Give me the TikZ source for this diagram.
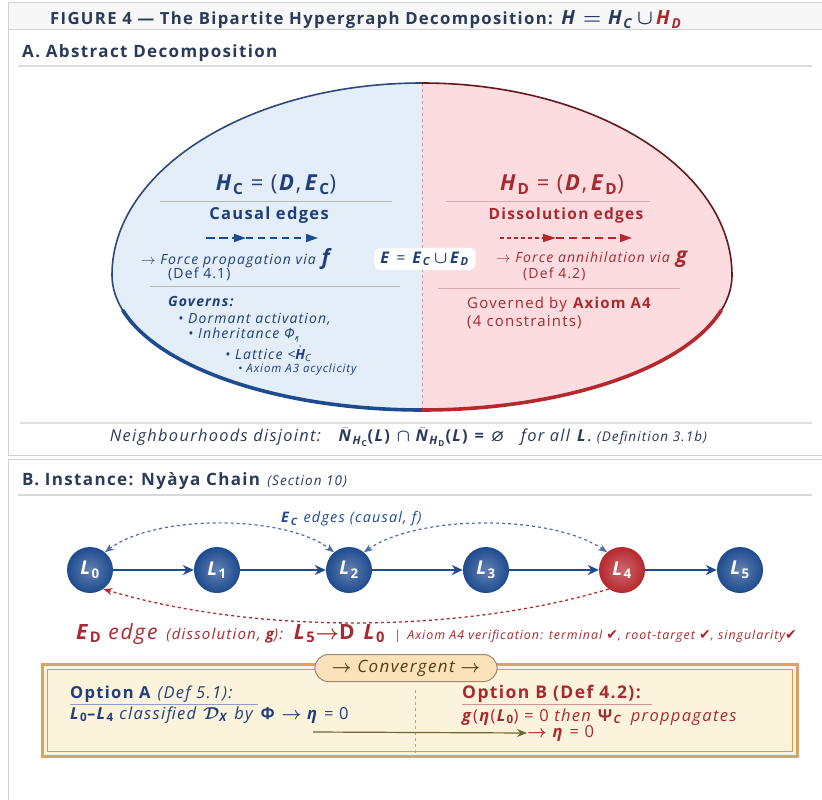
\documentclass[tikz,border=0pt]{standalone}
\usepackage{amsmath,amssymb,bm}
\usepackage{fontspec}
\setmainfont{Open Sans}[LetterSpace=8]
\newfontfamily\dejavu{DejaVu Sans}
\usetikzlibrary{arrows.meta,shapes.misc,shadows,calc}
\definecolor{bluD}{HTML}{1F3F7A}
\definecolor{bluN}{HTML}{1E4B8F}
\definecolor{redD}{HTML}{A82A30}
\definecolor{redN}{HTML}{B5292E}
\definecolor{lblue}{HTML}{E3EEF9}
\definecolor{lpink}{HTML}{FCDCDF}
\definecolor{frameg}{HTML}{D2D2D2}
\definecolor{titleg}{HTML}{2A3A58}
\definecolor{cream}{HTML}{FCF3DC}
\definecolor{tanB}{HTML}{D9A45C}
\definecolor{oliveL}{HTML}{6E6530}
\definecolor{brownT}{HTML}{5A3A12}
\newcommand\fsz[1]{\fontsize{#1}{#1}\selectfont}
\newcommand\bi[1]{\textbf{\textit{#1}}}
\newcommand\chk{{\dejavu\fsz{14}✔}}
\tikzset{
  chainnode/.style={circle, minimum size=46pt, inner sep=0pt, shading=radial,
    inner color=#1!70!white, outer color=#1, text=white, font=\fsz{19}},
  chainarrow/.style={bluN, line width=2pt, -{Stealth[length=11pt,width=10pt]}},
  sepline/.style={gray!55, line width=0.8pt},
  txt/.style={inner sep=0pt, font=\fsz{14}},
}
\begin{document}
\begin{tikzpicture}[x=1pt,y=-1pt]
\useasboundingbox (0,0) rectangle (822,800);
\fill[white] (0,0) rectangle (822,800);
% ---------- frames
\fill[gray!6] (8,3) rectangle (830,30);
\draw[frameg, line width=1pt] (830,3) -- (8,3) -- (8,455) -- (830,455);
\draw[frameg, line width=1pt] (8,30) -- (830,30);
\draw[frameg, line width=1pt] (830,459) -- (8,459) -- (8,805);
\draw[gray!30, line width=2pt] (18,66) -- (812,66);
\draw[gray!25, line width=1.5pt] (20,423) -- (812,423);
\draw[gray!30, line width=2pt] (18,495) -- (812,495);
% ---------- titles
\node[txt, anchor=west, text=titleg, font=\fsz{16.7}\bfseries] (title) at (50,20)
  {FIGURE 4 — The Bipartite Hypergraph Decomposition:\enspace {\fsz{19.5}\bi{H} $\boldsymbol{=}$ \bi{H}$_{\bi{C}}$\,$\boldsymbol{\cup}$\,{\color{redD}\bi{H}$_{\bi{D}}$}}};
\node[txt, anchor=west, text=titleg, font=\fsz{17}\bfseries] (secA) at (22,53) {A. Abstract Decomposition};
% ---------- ellipse (egg shape: taller above the widest line)
\fill[lblue] (422,83) arc[start angle=90, end angle=180, x radius=310pt, y radius=192pt]
  arc[start angle=180, end angle=270, x radius=310pt, y radius=135pt] -- cycle;
\fill[lpink] (422,410) arc[start angle=-90, end angle=0, x radius=310pt, y radius=135pt]
  arc[start angle=0, end angle=90, x radius=310pt, y radius=192pt] -- cycle;
\draw[gray!70, dashed, line width=0.8pt] (422,83) -- (422,410);
\draw[bluD!85!gray, line width=1.6pt] (422,83) arc[start angle=90, end angle=180, x radius=310pt, y radius=192pt]
  arc[start angle=180, end angle=270, x radius=310pt, y radius=135pt];
\draw[redD!60!black, line width=1.6pt] (422,410) arc[start angle=-90, end angle=0, x radius=310pt, y radius=135pt]
  arc[start angle=0, end angle=90, x radius=310pt, y radius=192pt];
\draw[bluN, line width=3.6pt] (422,275) ++(195:310pt and 135pt) arc[start angle=195, end angle=270, x radius=310pt, y radius=135pt];
\draw[redN, line width=3.6pt] (422,410) arc[start angle=-90, end angle=-15, x radius=310pt, y radius=135pt];
% ---------- left half
\node[txt, text=bluD, font=\fsz{22}] (hc) at (276,185) {\bi{H}$_{\textbf{C}}$ = (\bi{D},\,\bi{E}$_{\textbf{C}}$)};
\draw[sepline] (160,201) -- (392,201);
\node[txt, text=bluD, font=\fsz{16.5}\bfseries] (causal) at (269,215) {Causal edges};
\coordinate (ca1) at (206,238); \coordinate (ca2) at (246,238); \coordinate (ca3) at (318,238);
\draw[bluN, line width=1.8pt, dash pattern=on 9pt off 4pt, -{Triangle[length=12pt,width=8pt]}] (ca1) -- (ca2);
\draw[bluN, line width=1.8pt, dash pattern=on 7pt off 5pt, -{Triangle[length=12pt,width=8pt]}] (ca2) -- (ca3);
\node[txt, anchor=west, text=bluD, font=\fsz{14}] (fprop) at (141,259) {$\rightarrow$ \textit{Force propagation via} {\fsz{21}\bi{f}}};
\node[txt, anchor=west, text=bluD, font=\fsz{14}] (def41) at (168,274) {(Def 4.1)};
\draw[sepline] (150,286) -- (400,286);
\node[txt, anchor=west, text=bluD, font=\fsz{14}\bfseries\itshape] (gov) at (168,302) {Governs:};
\node[txt, anchor=west, text=bluD, font=\fsz{14}\itshape] (g1) at (178,319) {• Dormant activation,};
\node[txt, anchor=west, text=bluD, font=\fsz{14}\itshape] (g2) at (188,335) {• Inheritance Φ,\kern-4pt\raisebox{-4pt}{\fsz{8}1}};
\node[txt, anchor=west, text=bluD, font=\fsz{14}\itshape] (g3) at (225,354) {• Lattice <$\dot{\text{\bi{H}}}_{\textit{C}}$};
\node[txt, anchor=west, text=bluD, font=\fsz{11.5}\itshape] (g4) at (238,370) {• Axiom A3 acyclicity};
% ---------- right half
\node[txt, text=redD, font=\fsz{22}] (hd) at (562,185) {\bi{H}$_{\textbf{D}}$ = (\bi{D},\,\bi{E}$_{\textbf{D}}$)};
\draw[sepline, redD!40] (446,201) -- (650,201);
\node[txt, text=redD, font=\fsz{15.5}\bfseries] (diss) at (566,215) {Dissolution edges};
\coordinate (da1) at (500,238); \coordinate (da2) at (556,238); \coordinate (da3) at (632,238);
\draw[redN, line width=1.2pt, dash pattern=on 4pt off 3pt, -{Triangle[length=13pt,width=8pt]}] (da1) -- (da2);
\draw[redN, line width=1.8pt, dash pattern=on 8pt off 5pt, -{Triangle[length=12pt,width=8pt]}] (da2) -- (da3);
\node[txt, anchor=west, text=redD, font=\fsz{14}] (fann) at (496,259) {$\rightarrow$ \textit{Force annihilation via} {\fsz{21}\bi{g}}};
\node[txt, anchor=west, text=redD, font=\fsz{14}] (def42) at (523,274) {(Def 4.2)};
\draw[sepline, redD!40] (438,288) -- (680,288);
\node[txt, anchor=west, text=redD, font=\fsz{15}] (govd) at (467,305) {Governed by \textbf{Axiom A4}};
\node[txt, anchor=west, text=redD, font=\fsz{15}] (cons) at (467,322) {(4 constraints)};
% ---------- centre label
\node[fill=white, rounded corners=5pt, inner xsep=6pt, inner ysep=4pt, text=bluD, font=\fsz{16}] (Eun) at (425,259)
  {\bi{E} = \bi{E}$_{\bi{C}}$\,$\boldsymbol{\cup}$\,\bi{E}$_{\bi{D}}$};
% ---------- neighbourhoods
\node[txt, text=titleg, font=\fsz{16.4}] (nb) at (409,437)
  {\textit{Neighbourhoods disjoint:}\quad $\bar{\text{\bi{N}}}_{\text{\bi{H}}_{\textbf{C}}}$\textbf{(}\bi{L}\textbf{)} $\boldsymbol{\cap}$ $\bar{\text{\bi{N}}}_{\text{\bi{H}}_{\textbf{D}}}$\textbf{(}\bi{L}\textbf{)} \textbf{=} $\boldsymbol{\varnothing}$\quad \textit{for all} \bi{L}. {\fsz{13.5}\textit{(Definition 3.1b)}}};
% ---------- panel B
\node[txt, anchor=west, text=titleg, font=\fsz{17}] (secB) at (22,481) {\textbf{B. Instance: Nyàya Chain} {\fsz{13.5}\textit{(Section 10)}}};
\node[txt, text=bluN, font=\fsz{14.5}] (eclab) at (352,519) {\bi{E}$_{\bi{C}}$ \textit{edges (causal, f)}};
\node[chainnode=bluN] (L0) at (90,570) {\bi{L}$_{\textbf{0}}$};
\node[chainnode=bluN] (L1) at (217,570) {\bi{L}$_{\textbf{1}}$};
\node[chainnode=bluN] (L2) at (349,570) {\bi{L}$_{\textbf{2}}$};
\node[chainnode=bluN] (L3) at (486,570) {\bi{L}$_{\textbf{3}}$};
\node[chainnode=redN] (L4) at (622,570) {\bi{L}$_{\textbf{4}}$};
\node[chainnode=bluN] (L5) at (740,570) {\bi{L}$_{\textbf{5}}$};
\draw[chainarrow] (L0) -- (L1);
\draw[chainarrow] (L1) -- (L2);
\draw[chainarrow] (L2) -- (L3);
\draw[chainarrow] (L3) -- (L4);
\draw[chainarrow] (L4) -- (L5);
\draw[bluN!80, line width=1.2pt, dashed, {Stealth[length=9pt,width=7pt]}-{Stealth[length=9pt,width=7pt]}]
  (L0.50) .. controls +(50,-38) and +(-50,-38) .. (L2.130);
\draw[bluN!80, line width=1.2pt, dashed, {Stealth[length=9pt,width=7pt]}-{Stealth[length=9pt,width=7pt]}]
  (L2.50) .. controls +(55,-38) and +(-55,-38) .. (L4.130);
\draw[redN, line width=1.3pt, dashed, -{Stealth[length=9pt,width=7pt]}]
  (L4.235) .. controls +(-150,45) and +(150,45) .. (L0.-55);
\node[txt, anchor=west, text=redD, font=\fsz{21}] (edline) at (76,634)
  {\bi{E}$_{\textbf{D}}$ \textit{edge} {\fsz{15}\textit{(dissolution, \bi{g}):}} \bi{L}$_{\textbf{5}}$$\boldsymbol{\rightarrow}$\textbf{D} \bi{L}$_{\textbf{0}}$ {\fsz{12.4}\textit{\,|\, Axiom A4 verification: terminal \chk, root-target \chk, singularity\chk}}};
% ---------- convergent box
\draw[tanB, line width=3pt, fill=cream, drop shadow={opacity=0.25, shadow xshift=2pt, shadow yshift=-2pt}] (42,664) rectangle (797,756);
\draw[tanB!80!brown, line width=0.6pt] (47,669) rectangle (792,751);
\node[rounded rectangle, draw=brownT!60, line width=1pt, fill=orange!15!cream, text=brownT,
      font=\fsz{17}\itshape, minimum height=27pt, inner xsep=14pt] (conv) at (406,668)
  {$\boldsymbol{\rightarrow}$ Convergent $\boldsymbol{\rightarrow}$};
\draw[gray!70, dashed, line width=0.8pt] (415,690) -- (415,753);
\node[txt, anchor=west, text=bluD, font=\fsz{16.5}] (optA) at (70,694) {\textbf{Option A} \textit{(Def 5.1):}};
\draw[bluD!50, line width=1pt] (70,704) -- (258,704);
\node[txt, anchor=west, text=bluD, font=\fsz{16.5}] (optA2) at (70,715)
  {\bi{L}$_{\textbf{0}}$\textbf{–}\bi{L}$_{\textbf{4}}$ \textit{classified} $\boldsymbol{\mathcal{D}}_{\bi{X}}$ \textit{by} \textbf{Φ} $\boldsymbol{\rightarrow}$ \bi{η} = 0};
\node[txt, anchor=west, text=redD, font=\fsz{17.5}] (optB) at (462,694) {\textbf{Option B (Def 4.2):}};
\draw[redD!50, line width=1pt] (462,704) -- (652,704);
\node[txt, anchor=west, text=redD, font=\fsz{16.5}] (optB2) at (462,717)
  {\bi{g}(\bi{η}(\bi{L}$_{\textbf{0}}$) = 0 \textit{then} \textbf{Ψ}$_{\bi{C}}$\enspace \textit{proppagates}};
\coordinate (ol1) at (313,732);
\node[txt, anchor=west, text=redD, font=\fsz{16.5}] (eta0) at (527,733) {$\boldsymbol{\rightarrow}$ \bi{η} = 0};
\draw[oliveL, line width=1.2pt, -{Stealth[length=10pt,width=8pt]}] (ol1) -- (eta0.west);
\end{tikzpicture}
\end{document}
